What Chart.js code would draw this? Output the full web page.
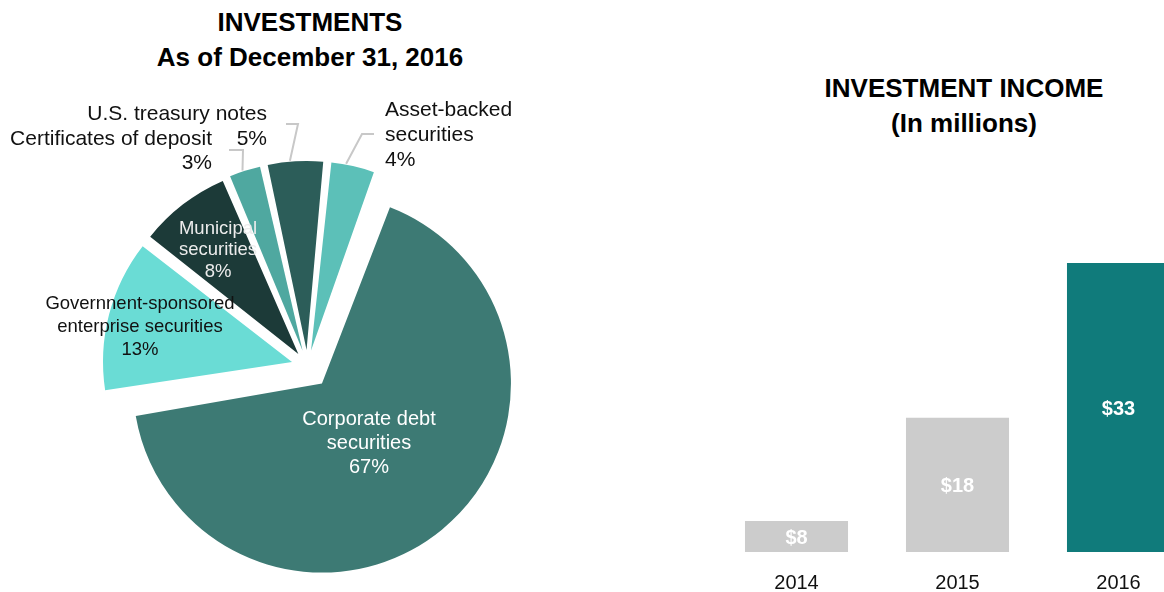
<!DOCTYPE html>
<html>
<head>
<meta charset="utf-8">
<script src="https://cdn.jsdelivr.net/npm/chart.js@4.4.1/dist/chart.umd.min.js"></script>
<style>
  html, body { margin: 0; padding: 0; width: 1164px; height: 592px; overflow: hidden; background: #ffffff; }
  body { position: relative; font-family: "Liberation Sans", Arial, sans-serif; }
  .title { position: absolute; width: 420px; font-weight: bold; font-size: 26px; line-height: 35px; text-align: center; color: #000000; white-space: nowrap; }
  #pieTitle { left: 100px; top: 5px; }
  #barTitle { left: 754px; top: 71px; }
  canvas { position: absolute; top: 0; }
  #pieChart { left: 0; }
  #barChart { left: 716px; }
</style>
</head>
<body>
<div class="title" id="pieTitle">INVESTMENTS<br>As of December 31, 2016</div>
<div class="title" id="barTitle">INVESTMENT INCOME<br>(In millions)</div>
<canvas id="pieChart" width="615" height="592"></canvas>
<canvas id="barChart" width="483" height="614"></canvas>
<script>
const sliceLabels = [
  ["Corporate debt", "securities"],
  ["Governnent-sponsored", "enterprise securities"],
  ["Municipal", "securities"],
  ["Certificates of deposit"],
  ["U.S. treasury notes"],
  ["Asset-backed", "securities"]
];
const slicePercents = [67, 13, 8, 3, 5, 4];
const sliceColors = ["#3d7a74", "#6adcd5", "#1c3a38", "#4fa8a0", "#2c5d59", "#5cc0b8"];
const sliceOffsets = [91, 64, 60, 64, 64, 64];

const incomeYears = ["2014", "2015", "2016"];
const incomeValues = [8, 18, 33];
const incomeColors = ["#cccccc", "#cccccc", "#107b7b"];

const FONT = '"Liberation Sans", Arial, sans-serif';
const PIE_RADIUS = 189;

// text placement for each slice; outside labels get a grey leader to the rim
const pieLabelLayout = [
  { x: 369, y: 418, align: "center", size: 20, lineHeight: 24, color: "#ffffff" },
  { x: 140, y: 302, align: "center", size: 18.5, lineHeight: 23, color: "#111111" },
  { x: 218, y: 227, align: "center", size: 18.5, lineHeight: 21.5, color: "#ececec" },
  { x: 212, y: 137, align: "right", size: 21, lineHeight: 24.5, color: "#111111", leader: [[229, 150], [243, 150]], at: 0.44 },
  { x: 267, y: 112, align: "right", size: 21, lineHeight: 25.5, color: "#111111", leader: [[286, 124], [298, 124]], at: 0.41 },
  { x: 385, y: 108, align: "left", size: 21, lineHeight: 25, color: "#111111", leader: [[374, 134], [362, 134]], at: 0.35 }
];

// exploded slices grow by offset/4 in chart.js, pull them back to one rim
const evenRim = {
  id: "evenRim",
  beforeDatasetsDraw(chart) {
    chart.getDatasetMeta(0).data.forEach((arc) => {
      const push = (arc.options.offset || 0) / 4;
      const fix = 1 - Math.sin(Math.min(Math.PI, arc.circumference));
      arc.outerRadius = PIE_RADIUS - push * fix;
    });
  }
};

const pieText = {
  id: "pieText",
  afterDatasetsDraw(chart) {
    const ctx = chart.ctx;
    const arcs = chart.getDatasetMeta(0).data;
    ctx.save();
    pieLabelLayout.forEach((l, i) => {
      const arc = arcs[i];
      if (l.leader) {
        const mid = (arc.startAngle + arc.endAngle) / 2;
        const push = arc.options.offset / 4;
        const cx = arc.x + Math.cos(mid) * push;
        const cy = arc.y + Math.sin(mid) * push;
        const a = arc.startAngle + l.at * (arc.endAngle - arc.startAngle);
        ctx.beginPath();
        ctx.moveTo(l.leader[0][0], l.leader[0][1]);
        ctx.lineTo(l.leader[1][0], l.leader[1][1]);
        ctx.lineTo(cx + Math.cos(a) * (PIE_RADIUS + 1), cy + Math.sin(a) * (PIE_RADIUS + 1));
        ctx.strokeStyle = "#c8c8c8";
        ctx.lineWidth = 2;
        ctx.stroke();
      }
      const lines = sliceLabels[i].concat([slicePercents[i] + "%"]);
      ctx.font = l.size + "px " + FONT;
      ctx.fillStyle = l.color;
      ctx.textAlign = l.align;
      ctx.textBaseline = "alphabetic";
      lines.forEach((t, k) => {
        ctx.fillText(t, l.x, l.y + k * l.lineHeight + 0.36 * l.size);
      });
    });
    ctx.restore();
  }
};

new Chart(document.getElementById("pieChart"), {
  type: "pie",
  data: {
    labels: sliceLabels,
    datasets: [{
      data: slicePercents,
      backgroundColor: sliceColors,
      offset: sliceOffsets,
      borderWidth: 0
    }]
  },
  options: {
    responsive: false,
    animation: false,
    events: [],
    rotation: 20,
    radius: PIE_RADIUS,
    layout: { padding: { top: 140 } },
    plugins: {
      legend: { display: false },
      tooltip: { enabled: false }
    }
  },
  plugins: [evenRim, pieText]
});

// value printed in the middle of the visible part of each bar
const barValues = {
  id: "barValues",
  afterDatasetsDraw(chart) {
    const ctx = chart.ctx;
    const bottom = chart.chartArea.bottom;
    ctx.save();
    ctx.font = "bold 20px " + FONT;
    ctx.fillStyle = "#ffffff";
    ctx.textAlign = "center";
    ctx.textBaseline = "alphabetic";
    chart.getDatasetMeta(0).data.forEach((bar, i) => {
      const mid = (bar.y + Math.min(bar.base, bottom)) / 2;
      ctx.fillText("$" + incomeValues[i], bar.x, mid + 7);
    });
    ctx.restore();
  }
};

new Chart(document.getElementById("barChart"), {
  type: "bar",
  data: {
    labels: incomeYears,
    datasets: [{
      data: incomeValues,
      backgroundColor: incomeColors,
      categoryPercentage: 0.8,
      barPercentage: 0.8
    }]
  },
  options: {
    responsive: false,
    animation: false,
    events: [],
    layout: { padding: 0 },
    plugins: {
      legend: { display: false },
      tooltip: { enabled: false }
    },
    scales: {
      x: {
        grid: { display: false, drawTicks: false },
        border: { display: false },
        ticks: { color: "#111111", padding: 19, font: { family: FONT, size: 20 } }
      },
      y: {
        display: false,
        min: 5,
        max: 58.5
      }
    }
  },
  plugins: [barValues]
});
</script>
</body>
</html>
